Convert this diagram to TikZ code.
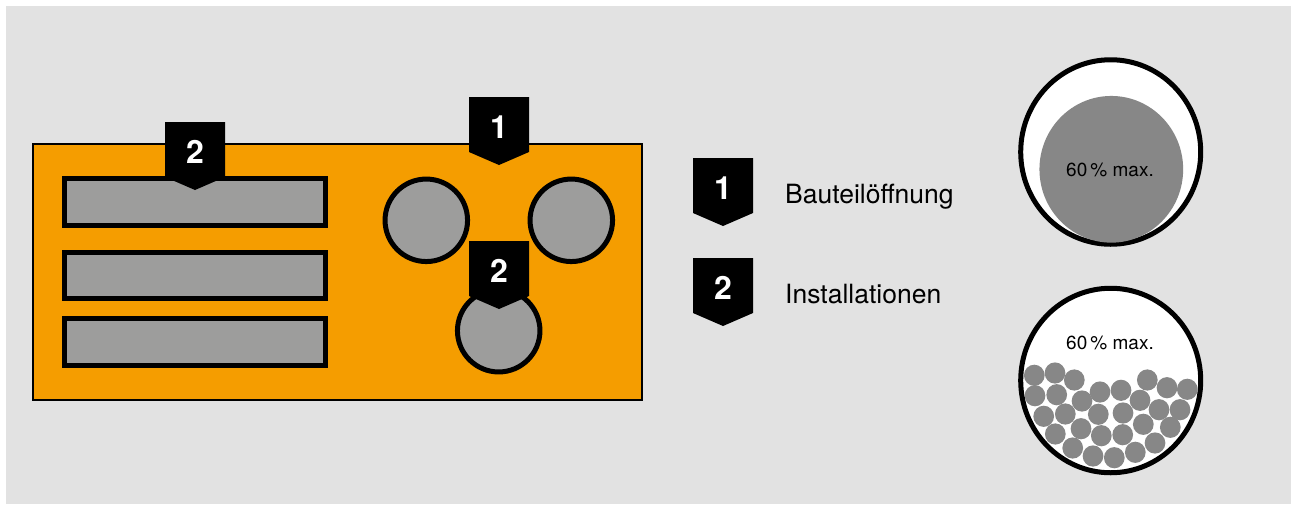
\documentclass[tikz,border=0pt]{standalone}
\usepackage{fontspec}
\usetikzlibrary{shapes.geometric}
\setmainfont{TeX Gyre Heros}
\definecolor{panelgrey}{HTML}{E2E2E2}
\definecolor{plateorange}{HTML}{F59D00}
\definecolor{ductgrey}{HTML}{9D9D9C}
\definecolor{fillgrey}{HTML}{878787}
\tikzset{
  opening/.style={circle,draw,line width=5pt,fill=ductgrey,inner sep=0pt,minimum size=82.5pt},
  duct/.style={rectangle,draw,line width=5pt,fill=ductgrey,inner sep=0pt,minimum width=261pt},
  section/.style={ellipse,draw,line width=5pt,fill=white,inner sep=0pt,minimum width=180pt,minimum height=184.5pt},
  ball/.style={ellipse,fill=fillgrey,inner sep=0pt,minimum width=20.7pt,minimum height=21.2pt},
  digit/.style={text=white,font=\bfseries\fontsize{32}{32}\selectfont,inner sep=0pt},
  legend/.style={anchor=base west,inner sep=0pt,font=\fontsize{26.5}{30}\selectfont},
  percent/.style={anchor=base,inner sep=0pt,font=\fontsize{19}{22}\selectfont},
}
% badge: node name, x of centre, y of top, number
\newcommand{\badge}[4]{
  \fill (#2-30,#3) -- (#2+30,#3) -- (#2+30,#3+55) -- (#2,#3+68) -- (#2-30,#3+55) -- cycle;
  \node[digit] (#1) at (#2,#3+30) {#4};
}

\begin{document}
\begin{tikzpicture}[x=1pt,y=-1pt]
\useasboundingbox (0,0) rectangle (1291,504);

% panel
\fill[panelgrey] (6,6) rectangle (1291,504);

% plate
\node[rectangle,draw,line width=1.3pt,fill=plateorange,inner sep=0pt,minimum width=609pt,minimum height=256pt] (plate) at (337.5,272) {};

% ducts
\node[duct,minimum height=47pt] (duct1) at (194.7,202) {};
\node[duct,minimum height=46pt] (duct2) at (194.7,275.5) {};
\node[duct,minimum height=47pt] (duct3) at (194.7,342) {};

% openings
\node[opening] (left) at (426.3,220.3) {};
\node[opening] (right) at (571.3,220.3) {};
\node[opening] (lower) at (498.7,330.7) {};

% badges on the plate
\badge{badgeduct}{195}{122}{2}
\badge{badgetop}{499}{97}{1}
\badge{badgelower}{499}{241}{2}

% legend
\badge{keyopening}{723}{158}{1}
\node[legend] (textopening) at (785,203) {Bauteilöffnung};
\badge{keyducts}{723}{258}{2}
\node[legend] (textducts) at (785,303) {Installationen};

% upper section
\node[section] (upper) at (1110.7,152) {};
\node[ellipse,fill=fillgrey,inner sep=0pt,minimum width=143.7pt,minimum height=146.7pt] (cable) at (1111.3,169.3) {};
\node[percent] (uppertext) at (1110,176) {60\,\% max.};

% lower section
\node[section] (bottom) at (1110.7,380.5) {};
\node[percent] (bottomtext) at (1110,349) {60\,\% max.};

% cables
\node[ball] (b1) at (1034.3,375.3) {};
\node[ball] (b2) at (1055,373) {};
\node[ball] (b3) at (1074.3,380) {};
\node[ball] (b4) at (1035,395.7) {};
\node[ball] (b5) at (1056.7,394.7) {};
\node[ball] (b6) at (1082,401) {};
\node[ball] (b7) at (1100,392) {};
\node[ball] (b8) at (1121,390.3) {};
\node[ball] (b9) at (1147.3,380) {};
\node[ball] (b10) at (1167,387.7) {};
\node[ball] (b11) at (1187.3,389.3) {};
\node[ball] (b12) at (1140,400.3) {};
\node[ball] (b13) at (1043.7,416.3) {};
\node[ball] (b14) at (1065.3,414) {};
\node[ball] (b15) at (1098.3,414.3) {};
\node[ball] (b16) at (1123,413) {};
\node[ball] (b17) at (1159,409.7) {};
\node[ball] (b18) at (1180,409.7) {};
\node[ball] (b19) at (1055.3,434) {};
\node[ball] (b20) at (1081,428.7) {};
\node[ball] (b21) at (1101.3,435.7) {};
\node[ball] (b22) at (1122.7,434.7) {};
\node[ball] (b23) at (1143.3,424.3) {};
\node[ball] (b24) at (1170.3,427.3) {};
\node[ball] (b25) at (1072.7,448) {};
\node[ball] (b26) at (1093,456) {};
\node[ball] (b27) at (1114.3,457.7) {};
\node[ball] (b28) at (1135.3,452.3) {};
\node[ball] (b29) at (1155,443) {};

\end{tikzpicture}
\end{document}
